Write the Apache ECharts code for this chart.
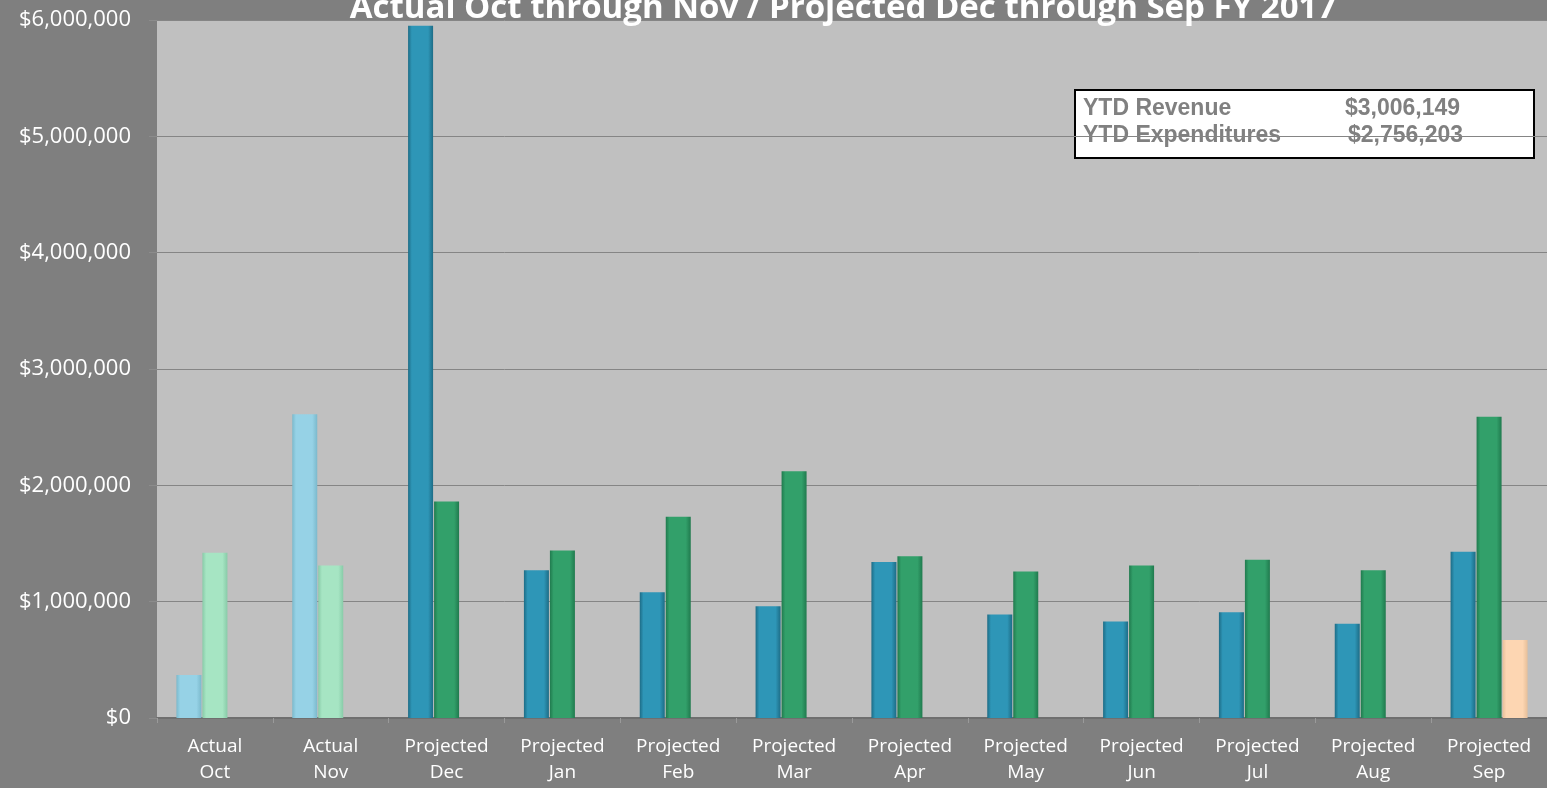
<!DOCTYPE html>
<html>
<head>
<meta charset="utf-8">
<script src="https://cdn.jsdelivr.net/npm/echarts@6/dist/echarts.min.js"></script>
<style>
  html, body { margin: 0; padding: 0; background: #7f7f7f; }
  #main { width: 1547px; height: 788px; }
</style>
</head>
<body>
<div id="main"></div>
<script>
// 数据
var categories = ['Actual\nOct', 'Actual\nNov', 'Projected\nDec', 'Projected\nJan', 'Projected\nFeb', 'Projected\nMar',
                  'Projected\nApr', 'Projected\nMay', 'Projected\nJun', 'Projected\nJul', 'Projected\nAug', 'Projected\nSep'];
var revenue      = [370000, 2610000, 5950000, 1270000, 1080000, 960000, 1340000, 890000, 830000, 910000, 810000, 1430000];
var expenditures = [1420000, 1310000, 1860000, 1440000, 1730000, 2120000, 1390000, 1260000, 1310000, 1360000, 1270000, 2590000];
var other        = [null, null, null, null, null, null, null, null, null, null, null, 670000];
var actualCount = 2;
var ytdLabels = ['YTD Revenue', 'YTD Expenditures'];
var ytdValues = ['$3,006,149', '$2,756,203'];

var myChart = echarts.init(document.getElementById('main'));

// 立体效果用横向渐变
function bevel(dark, mid) {
  return new echarts.graphic.LinearGradient(0, 0, 1, 0, [
    { offset: 0, color: dark },
    { offset: 0.15, color: mid },
    { offset: 0.8, color: mid },
    { offset: 1, color: dark }
  ]);
}
var blueProj = bevel('#1d6c86', '#2e96b7');
var blueAct = bevel('#7bb9cc', '#96d2e6');
var greenProj = bevel('#207a4e', '#32a06a');
var greenAct = bevel('#88cba8', '#a6e5c3');
var peach = bevel('#e6bf9a', '#fdd6b2');

function styled(values, actColor, projColor) {
  return values.map(function (v, i) {
    return { value: v, itemStyle: { color: i < actualCount ? actColor : projColor } };
  });
}

var boxFont = 'bold 23px "Liberation Sans", Arial';

var option = {
  backgroundColor: '#7f7f7f',
  animation: false,
  title: {
    text: 'Actual Oct through Nov / Projected Dec through Sep FY 2017',
    left: 838,
    textAlign: 'center',
    top: -13,
    textStyle: { color: '#ffffff', fontSize: 33, fontWeight: 'bold', fontFamily: 'Open Sans' }
  },
  grid: {
    left: 157, right: 0, top: 20, bottom: 70,
    show: true, backgroundColor: '#c0c0c0', borderWidth: 0
  },
  xAxis: {
    type: 'category',
    data: categories,
    axisLine: { lineStyle: { color: '#6f6f6f', width: 2 } },
    axisTick: { show: true, length: 5, lineStyle: { color: '#9a9a9a' } },
    axisLabel: { color: '#ffffff', fontSize: 19, fontFamily: 'Open Sans', lineHeight: 26, margin: 16 }
  },
  yAxis: {
    type: 'value',
    min: 0, max: 6000000, interval: 1000000,
    axisLine: { show: false },
    axisTick: { show: true, length: 8, lineStyle: { color: '#8c8c8c' } },
    splitLine: { lineStyle: { color: '#858585', width: 1 } },
    axisLabel: {
      color: '#ffffff', fontSize: 22, fontFamily: 'Open Sans', margin: 26,
      formatter: function (v) { return '$' + v.toLocaleString('en-US'); }
    }
  },
  series: [
    { name: 'Revenue', type: 'bar', barWidth: 25, barGap: '4%', data: styled(revenue, blueAct, blueProj) },
    { name: 'Expenditures', type: 'bar', barWidth: 25, barGap: '4%', data: styled(expenditures, greenAct, greenProj) },
    { name: 'Other', type: 'bar', barWidth: 25, barGap: '4%', itemStyle: { color: peach }, data: other }
  ],
  graphic: [
    {
      type: 'group', left: 1074, top: 89,
      children: [
        { type: 'rect', shape: { x: 0, y: 0, width: 459, height: 68 },
          style: { fill: '#ffffff', stroke: '#000000', lineWidth: 2 } },
        { type: 'text', x: 8, y: 7, style: { text: ytdLabels[0], fill: '#808080', font: boxFont } },
        { type: 'text', x: 8, y: 34, style: { text: ytdLabels[1], fill: '#808080', font: boxFont } },
        { type: 'text', x: 270, y: 7, style: { text: ytdValues[0], fill: '#808080', font: boxFont } },
        { type: 'text', x: 273, y: 34, style: { text: ytdValues[1], fill: '#808080', font: boxFont } }
      ]
    }
  ]
};

myChart.setOption(option);
</script>
</body>
</html>
